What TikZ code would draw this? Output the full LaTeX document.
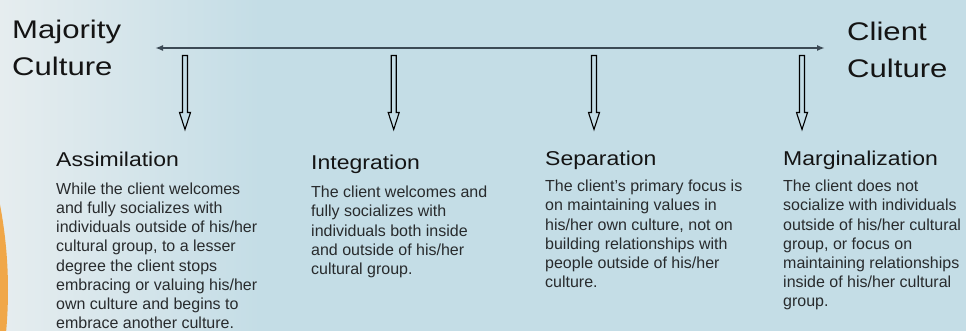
\documentclass[tikz,border=0pt]{standalone}
\usepackage{fontspec}
\setmainfont{Liberation Sans}
\newfontfamily\headfont[FakeStretch=1.15]{Liberation Sans}
\newfontfamily\sidefont[FakeStretch=1.22]{Liberation Sans}
\usetikzlibrary{arrows.meta,calc,positioning}
\definecolor{bgblue}{HTML}{C4DDE6}
\definecolor{bgpale}{HTML}{E6EDEF}
\definecolor{ink}{HTML}{141414}
\definecolor{bodyink}{HTML}{282B2D}
\definecolor{axisink}{HTML}{3C4A55}
\definecolor{arc}{HTML}{F0A748}
\begin{document}
\begin{tikzpicture}[x=1pt,y=1pt,
  side/.style={font=\sidefont\fontsize{25.5}{37}\selectfont, text=ink, align=left, inner sep=0pt, anchor=base west},
  stage/.style={font=\headfont\fontsize{20}{24}\selectfont, text=ink, inner sep=0pt, anchor=base west},
  note/.style={font=\fontsize{16}{19.2}\selectfont, text=bodyink, align=left, inner sep=0pt, anchor=base west},
  hollow/.style={draw=black, fill=bgblue, line width=1.1pt, line join=miter,
    to path={let \p1=(\tikztostart), \p2=(\tikztotarget) in
      (\x1-2.5pt,\y1) -- (\x1-2.5pt,\y2+17pt) -- (\x1-5.5pt,\y2+17pt) -- (\x1,\y2)
      -- (\x1+5.5pt,\y2+17pt) -- (\x1+2.5pt,\y2+17pt) -- (\x1+2.5pt,\y1) -- cycle}}]
\useasboundingbox (0,0) rectangle (966,-331);
% background
\shade[left color=bgpale, right color=bgblue] (0,0) rectangle (260,-331);
\fill[bgblue] (259,0) rectangle (966,-331);
\begin{scope}
\clip (0,0) rectangle (966,-331);
\fill[arc] (-447,-290) circle (455);
\end{scope}

% base anchor = last line
\node[side] (majority) at (12,-76) {Majority\\Culture};
\node[side] (client) at (847,-78) {Client\\Culture};
\coordinate (left) at (155,-48);
\coordinate (right) at (825,-48);
\draw[axisink, line width=2pt, {Latex[length=8pt,width=6pt]}-{Latex[length=8pt,width=6pt]}] (left) -- (right);

% the four stages
\node[stage] (h1) at (56,-166.7) {Assimilation};
\node[stage] (h2) at (311,-170) {Integration};
\node[stage] (h3) at (545,-166) {Separation};
\node[stage] (h4) at (783,-166) {Marginalization};

\node[note] (n1) at (56,-328.7) {While the client welcomes\\and fully socializes with\\individuals outside of his/her\\cultural group, to a lesser\\degree the client stops\\embracing or valuing his/her\\own culture and begins to\\embrace another culture.};
\node[note] (n2) at (311,-274.5) {The client welcomes and\\fully socializes with\\individuals both inside\\and outside of his/her\\cultural group.};
\node[note] (n3) at (545,-287.7) {The client's primary focus is\\on maintaining values in\\his/her own culture, not on\\building relationships with\\people outside of his/her\\culture.};
\node[note] (n4) at (783,-306.9) {The client does not\\socialize with individuals\\outside of his/her cultural\\group, or focus on\\maintaining relationships\\inside of his/her cultural\\group.};

\foreach \i/\x in {1/185,2/393.7,3/594,4/802} {
  \coordinate (t\i) at (\x,-55.5);
  \coordinate (b\i) at (\x,-129.5);
  \draw[hollow] (t\i) to (b\i);
}
\end{tikzpicture}
\end{document}
